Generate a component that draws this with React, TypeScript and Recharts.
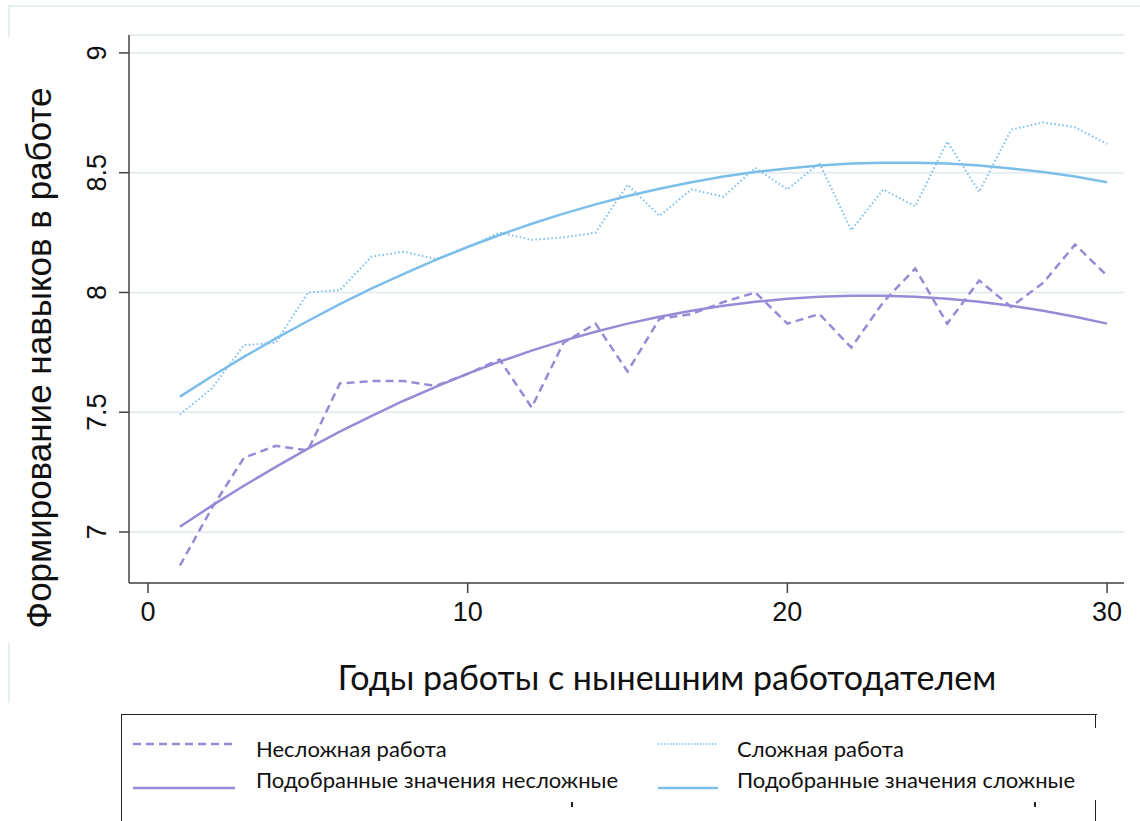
import React from "react";
import { CartesianGrid, Line, LineChart, XAxis, YAxis } from "recharts";

const years = [1, 2, 3, 4, 5, 6, 7, 8, 9, 10, 11, 12, 13, 14, 15, 16, 17, 18, 19, 20, 21, 22, 23, 24, 25, 26, 27, 28, 29, 30];

// Несложная работа (dashed)
const simpleJob = [6.86, 7.1, 7.31, 7.36, 7.34, 7.62, 7.63, 7.63, 7.61, 7.66, 7.72, 7.52, 7.79, 7.87, 7.67, 7.89, 7.91, 7.96, 8.0, 7.87, 7.91, 7.77, 7.96, 8.1, 7.87, 8.05, 7.94, 8.04, 8.2, 8.07];
// Сложная работа (dotted)
const complexJob = [7.49, 7.6, 7.78, 7.79, 8.0, 8.01, 8.15, 8.17, 8.14, 8.19, 8.25, 8.22, 8.23, 8.25, 8.45, 8.32, 8.43, 8.4, 8.52, 8.43, 8.54, 8.26, 8.43, 8.36, 8.63, 8.42, 8.68, 8.71, 8.69, 8.62];
// fitted values
const simpleFit = [7.022, 7.11, 7.193, 7.272, 7.348, 7.419, 7.485, 7.548, 7.606, 7.661, 7.711, 7.757, 7.799, 7.836, 7.87, 7.899, 7.924, 7.945, 7.961, 7.974, 7.982, 7.986, 7.986, 7.982, 7.974, 7.961, 7.945, 7.924, 7.899, 7.87];
const complexFit = [7.565, 7.65, 7.731, 7.808, 7.881, 7.951, 8.017, 8.078, 8.136, 8.19, 8.24, 8.287, 8.329, 8.368, 8.403, 8.433, 8.46, 8.484, 8.503, 8.518, 8.53, 8.538, 8.542, 8.542, 8.538, 8.53, 8.518, 8.503, 8.484, 8.46];

const xTicks = [0, 10, 20, 30];
const yTicks = [7, 7.5, 8, 8.5, 9];

const purple = "#978bd6";
const blue = "#7cbeea";
const gridColor = "#e6eef1";
const axisColor = "#444";
const sans = "'Liberation Sans', Arial, sans-serif";
const legendFont = "Lato, 'Noto Sans', sans-serif";

const data = years.map((year, i) => ({
  year,
  simple: simpleJob[i],
  complex: complexJob[i],
  simpleFit: simpleFit[i],
  complexFit: complexFit[i]
}));

const YTick = ({ x, y, payload }: any) => {
  const cx = x - 20;
  return (
    <text
      x={cx}
      y={y}
      transform={`rotate(-90 ${cx} ${y})`}
      textAnchor="middle"
      dominantBaseline="central"
      fontSize={27}
      fontFamily={sans}
      fill="#111"
    >
      {payload.value}
    </text>
  );
};

const XTick = ({ x, y, payload }: any) => (
  <text x={x} y={y + 17} textAnchor="middle" dominantBaseline="central" fontSize={27} fontFamily={sans} fill="#111">
    {payload.value}
  </text>
);

const LegendSample = ({ color, dash, width, thin }: { color: string; dash?: string; width: number; thin?: boolean }) => (
  <svg width={width} height={6} style={{ display: "block" }}>
    <line x1={0} y1={3} x2={width} y2={3} stroke={color} strokeWidth={thin ? 1.5 : 2.5} strokeDasharray={dash} />
  </svg>
);

const legendItems = [
  { label: "Несложная работа", color: purple, dash: "8 5", left: 133, lineY: 744, textY: 748, width: 102, textLeft: 256 },
  { label: "Сложная работа", color: blue, dash: "1.5 1.5", thin: true, left: 658, lineY: 744, textY: 748, width: 60, textLeft: 737 },
  { label: "Подобранные значения несложные", color: purple, left: 133, lineY: 788, textY: 779, width: 102, textLeft: 256 },
  { label: "Подобранные значения сложные", color: blue, left: 658, lineY: 788, textY: 779, width: 60, textLeft: 737 }
];

export default function App() {
  return (
    <div style={{ position: "fixed", left: 0, top: 0, width: 1140, height: 821, background: "#fff", overflow: "hidden" }}>
      {/* faint outer frame fragments */}
      <div style={{ position: "absolute", left: 8, top: 5, width: 1132, height: 30, borderTop: "2px solid #e8eff2", borderLeft: "2px solid #e8eff2" }} />
      <div style={{ position: "absolute", left: 8, top: 643, width: 0, height: 60, borderLeft: "2px solid #e8eff2" }} />

      <div style={{ position: "absolute", left: 0, top: 0 }}>
        <LineChart width={1140} height={821} data={data} margin={{ top: 35, right: 16, left: 0, bottom: 208 }}>
          <CartesianGrid horizontal vertical={false} stroke={gridColor} strokeWidth={2} />
          <XAxis
            dataKey="year"
            type="number"
            height={30}
            domain={[-0.594, 30.53]}
            ticks={xTicks}
            allowDataOverflow
            tickSize={10}
            tick={<XTick />}
            axisLine={{ stroke: axisColor, strokeWidth: 1.5 }}
            tickLine={{ stroke: axisColor, strokeWidth: 1.5 }}
          />
          <YAxis
            type="number"
            width={129}
            domain={[6.787, 9.075]}
            ticks={yTicks}
            allowDataOverflow
            tickSize={10}
            tick={<YTick />}
            axisLine={{ stroke: axisColor, strokeWidth: 1.5 }}
            tickLine={{ stroke: axisColor, strokeWidth: 1.5 }}
          />
          <Line dataKey="simple" stroke={purple} strokeWidth={2.5} strokeDasharray="8 5" dot={false} isAnimationActive={false} />
          <Line dataKey="complex" stroke={blue} strokeWidth={2} strokeDasharray="1.5 2.5" dot={false} isAnimationActive={false} />
          <Line dataKey="simpleFit" stroke={purple} strokeWidth={2.5} dot={false} isAnimationActive={false} />
          <Line dataKey="complexFit" stroke={blue} strokeWidth={2.5} dot={false} isAnimationActive={false} />
        </LineChart>
      </div>

      <div
        style={{
          position: "absolute",
          left: 39,
          top: 358,
          transform: "translate(-50%, -50%) rotate(-90deg)",
          whiteSpace: "nowrap",
          fontFamily: sans,
          fontSize: 35,
          color: "#111"
        }}
      >
        Формирование навыков в работе
      </div>

      <div
        style={{
          position: "absolute",
          left: 667,
          top: 676,
          transform: "translate(-50%, -50%)",
          whiteSpace: "nowrap",
          fontFamily: legendFont,
          fontSize: 34,
          color: "#111"
        }}
      >
        Годы работы с нынешним работодателем
      </div>

      {/* legend box */}
      <div style={{ position: "absolute", left: 121, top: 714, width: 975, height: 120, borderLeft: "1.5px solid #222", borderTop: "1.5px solid #222" }} />
      <div style={{ position: "absolute", left: 1095, top: 714, width: 0, height: 14, borderLeft: "1.5px solid #222" }} />
      <div style={{ position: "absolute", left: 1095, top: 800, width: 0, height: 21, borderLeft: "1.5px solid #222" }} />
      <div style={{ position: "absolute", left: 571, top: 802, width: 2, height: 5, background: "#222" }} />
      <div style={{ position: "absolute", left: 1034, top: 802, width: 2, height: 5, background: "#222" }} />
      {legendItems.map((item) => (
        <React.Fragment key={item.label}>
          <div style={{ position: "absolute", left: item.left, top: item.lineY - 3 }}>
            <LegendSample color={item.color} dash={item.dash} width={item.width} thin={item.thin} />
          </div>
          <div
            style={{
              position: "absolute",
              left: item.textLeft,
              top: item.textY,
              transform: "translateY(-50%)",
              whiteSpace: "nowrap",
              fontFamily: legendFont,
              fontSize: 22,
              color: "#111"
            }}
          >
            {item.label}
          </div>
        </React.Fragment>
      ))}
    </div>
  );
}
